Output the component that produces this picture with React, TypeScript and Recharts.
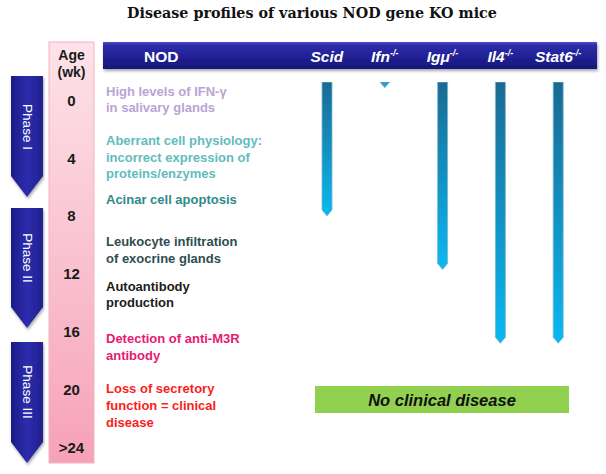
import React from 'react';
import { ComposedChart, Bar, XAxis, YAxis } from 'recharts';

// ---- data ----
const strains = ['Scid', 'Ifn', 'Igμ', 'Il4', 'Stat6'];
const strainSuffix = ['', '-/-', '-/-', '-/-', '-/-'];
const profileStart = [-1.25, -1.25, -1.25, -1.25, -1.25];
const profileEnd = [8, -0.85, 11.7, 16.8, 16.8];
const ageWeeks = [0, 4, 8, 12, 16, 20, 24];
const ageLabels = ['0', '4', '8', '12', '16', '20', '>24'];
const phaseNames = ['Phase I', 'Phase II', 'Phase III'];
const eventLines = [
  ['High levels of IFN-γ', 'in salivary glands'],
  ['Aberrant cell physiology:', 'incorrect expression of', 'proteins/enzymes'],
  ['Acinar cell apoptosis'],
  ['Leukocyte infiltration', 'of exocrine glands'],
  ['Autoantibody', 'production'],
  ['Detection of anti-M3R', 'antibody'],
  ['Loss of secretory', 'function = clinical', 'disease'],
];
const titleText = 'Disease profiles of various NOD gene KO mice';
const noDiseaseText = 'No clinical disease';

// ---- layout / style (not data) ----
const W = 606;
const H = 474;
const SANS = '"Liberation Sans", Arial, sans-serif';
const eventColors = ['#b8a5d4', '#62bcbd', '#2e8a8c', '#2e4d50', '#1c1c1c', '#e8196e', '#fb1d1d'];
const eventBaselines = [
  [96, 112],
  [145, 162, 178],
  [204],
  [246, 263],
  [291, 307],
  [343, 360],
  [393, 410, 427],
];
const phaseGeom = [
  { top: 76, tip: 197, mid: 127 },
  { top: 208, tip: 328, mid: 258 },
  { top: 342, tip: 463, mid: 392 },
];

const chartData = strains.map((s, i) => ({
  strain: s,
  range: [profileStart[i], profileEnd[i]],
}));

const BarShape = (props: any) => {
  const { x, y, width, height, index } = props;
  const top = Math.min(y, y + height);
  const h = Math.abs(height);
  const tipH = Math.min(6, h);
  const body = h - tipH;
  const id = `barGrad${index}`;
  const d = `M${x},${top} H${x + width} V${top + body} L${x + width / 2},${top + h} L${x},${top + body} Z`;
  return (
    <g>
      <defs>
        <linearGradient id={id} x1="0" y1="0" x2="0" y2="1">
          <stop offset="0" stopColor={h < 20 ? '#2a8fc4' : '#1a6a92'} />
          <stop offset="1" stopColor="#0ab8f2" />
        </linearGradient>
      </defs>
      <path d={d} fill={`url(#${id})`} stroke="#7fb6cc" strokeWidth={0.8} />
    </g>
  );
};

const StrainTick = (props: any) => {
  const { x, payload, index } = props;
  return (
    <text
      x={x}
      y={62}
      textAnchor="middle"
      fill="#ffffff"
      fontFamily={SANS}
      fontWeight="bold"
      fontStyle="italic"
      fontSize={15.5}
    >
      {payload.value}
      {strainSuffix[index] ? (
        <tspan fontSize={9} dy={-6}>
          {strainSuffix[index]}
        </tspan>
      ) : null}
    </text>
  );
};

const AgeTick = (props: any) => {
  const { y, payload } = props;
  const i = ageWeeks.indexOf(payload.value);
  return (
    <text
      x={71.5}
      y={y + 5.5}
      textAnchor="middle"
      fill="#1a1a1a"
      fontFamily={SANS}
      fontWeight="bold"
      fontSize={15}
    >
      {i >= 0 ? ageLabels[i] : ''}
    </text>
  );
};

const Background = () => (
  <svg width={W} height={H} style={{ position: 'absolute', left: 0, top: 0 }}>
    <defs>
      <linearGradient id="hdrGrad" x1="0" y1="0" x2="0" y2="1">
        <stop offset="0" stopColor="#5050cc" />
        <stop offset="0.12" stopColor="#2c2cab" />
        <stop offset="1" stopColor="#16167c" />
      </linearGradient>
      <linearGradient id="pinkGrad" x1="0" y1="0" x2="0" y2="1">
        <stop offset="0" stopColor="#fde3e9" />
        <stop offset="1" stopColor="#f6a2b7" />
      </linearGradient>
      <linearGradient id="phaseGrad" x1="0" y1="0" x2="1" y2="0">
        <stop offset="0" stopColor="#1c1c86" />
        <stop offset="0.5" stopColor="#2d2dae" />
        <stop offset="1" stopColor="#20208f" />
      </linearGradient>
      <filter id="shadow" x="-5%" y="-30%" width="110%" height="170%">
        <feDropShadow dx="1" dy="2" stdDeviation="1.5" floodColor="#000" floodOpacity="0.35" />
      </filter>
    </defs>
    <text
      x={312}
      y={18}
      textAnchor="middle"
      fontFamily='"DejaVu Serif", Georgia, serif'
      fontWeight="bold"
      fontSize={14.3}
      fill="#111"
    >
      {titleText}
    </text>
    <rect x={103} y={42} width={494} height={27} fill="url(#hdrGrad)" filter="url(#shadow)" />
    <text x={144} y={62} fill="#fff" fontFamily={SANS} fontWeight="bold" fontSize={15.5}>
      NOD
    </text>
    <rect x={49} y={42} width={45} height={421} fill="url(#pinkGrad)" stroke="#f3b1c1" strokeWidth={1} />
    <text x={71.5} y={60} textAnchor="middle" fontFamily={SANS} fontWeight="bold" fontSize={14} fill="#1a1a1a">
      Age
    </text>
    <text x={71.5} y={77} textAnchor="middle" fontFamily={SANS} fontWeight="bold" fontSize={14} fill="#1a1a1a">
      (wk)
    </text>
    {phaseGeom.map((p, i) => (
      <g key={i}>
        <path
          d={`M11,${p.top} H43 V${p.tip - 21} L27,${p.tip} L11,${p.tip - 21} Z`}
          fill="url(#phaseGrad)"
          filter="url(#shadow)"
        />
        <text
          transform={`translate(27, ${p.mid}) rotate(90)`}
          textAnchor="middle"
          dy={4.5}
          fill="#fff"
          fontFamily={SANS}
          fontSize={13.5}
        >
          {phaseNames[i]}
        </text>
      </g>
    ))}
    {eventLines.map((lines, i) =>
      lines.map((ln, j) => (
        <text
          key={`${i}-${j}`}
          x={106}
          y={eventBaselines[i][j]}
          fill={eventColors[i]}
          fontFamily={SANS}
          fontWeight="bold"
          fontSize={13}
        >
          {ln}
        </text>
      ))
    )}
    <rect x={315} y={386} width={254} height={27} fill="#92d050" />
    <text
      x={442}
      y={405.5}
      textAnchor="middle"
      fontFamily={SANS}
      fontWeight="bold"
      fontStyle="italic"
      fontSize={16.5}
      fill="#111"
    >
      {noDiseaseText}
    </text>
  </svg>
);

export default function App() {
  return (
    <div style={{ position: 'absolute', left: 0, top: 0, width: W, height: H, background: '#fff' }}>
      <Background />
      <div style={{ position: 'absolute', left: 0, top: 0 }}>
        <ComposedChart
          width={W}
          height={H}
          data={chartData}
          margin={{ top: 0, right: 19, bottom: 12, left: 0 }}
        >
          <XAxis
            dataKey="strain"
            type="category"
            orientation="top"
            height={82}
            axisLine={false}
            tickLine={false}
            interval={0}
            tick={<StrainTick />}
          />
          <YAxis
            type="number"
            orientation="left"
            width={298}
            domain={[-1.25, 25]}
            reversed
            allowDataOverflow
            ticks={ageWeeks}
            interval={0}
            axisLine={false}
            tickLine={false}
            tick={<AgeTick />}
          />
          <Bar dataKey="range" barSize={10} isAnimationActive={false} shape={<BarShape />} />
        </ComposedChart>
      </div>
    </div>
  );
}
